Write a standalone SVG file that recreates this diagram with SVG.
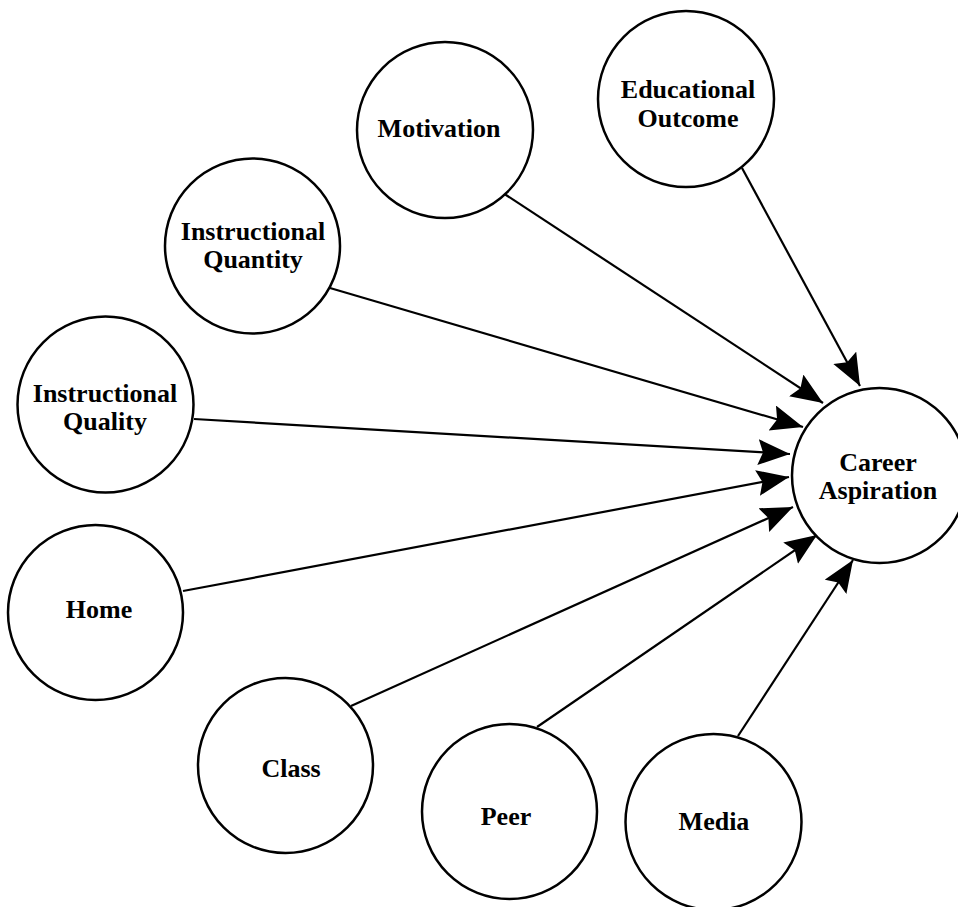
<svg xmlns="http://www.w3.org/2000/svg" width="958" height="907" viewBox="0 0 958 907">
<style>
.n{fill:#fff;stroke:#000;stroke-width:2.5}
.t{font-family:"Liberation Serif","Times New Roman",serif;font-weight:bold;font-size:26px;text-anchor:middle;fill:#000}
.c{stroke:#000;stroke-width:2.2;fill:none;marker-end:url(#ah)}
</style>
<defs>
<marker id="ah" markerUnits="userSpaceOnUse" markerWidth="34" markerHeight="28" refX="32" refY="13" orient="auto">
<path d="M0,0 L32,13 L0,26 L5,13 z" fill="#000"/>
</marker>
</defs>
<rect width="958" height="907" fill="#fff"/>
<g id="connectors">
<line class="c" x1="742" y1="168" x2="860" y2="386"/>
<line class="c" x1="503" y1="193" x2="823" y2="403"/>
<line class="c" x1="330" y1="288" x2="803" y2="427"/>
<line class="c" x1="194" y1="419" x2="790" y2="454"/>
<line class="c" x1="183" y1="591" x2="789" y2="477"/>
<line class="c" x1="351" y1="706" x2="793" y2="507"/>
<line class="c" x1="537" y1="727" x2="817" y2="535"/>
<line class="c" x1="738" y1="736" x2="853" y2="560"/>
</g>
<g id="educational-outcome"><circle class="n" cx="686" cy="99" r="88"/><text class="t" x="688" y="98">Educational</text><text class="t" x="688" y="127">Outcome</text></g>
<g id="motivation"><circle class="n" cx="445" cy="130" r="88"/><text class="t" x="439" y="137">Motivation</text></g>
<g id="instructional-quantity"><circle class="n" cx="252.5" cy="246" r="87.5"/><text class="t" x="253" y="240">Instructional</text><text class="t" x="253" y="268">Quantity</text></g>
<g id="instructional-quality"><circle class="n" cx="105.5" cy="404.5" r="88"/><text class="t" x="105" y="402">Instructional</text><text class="t" x="105" y="430">Quality</text></g>
<g id="home"><circle class="n" cx="95.5" cy="612.5" r="87.5"/><text class="t" x="99" y="618">Home</text></g>
<g id="class"><circle class="n" cx="285.5" cy="765.5" r="87.5"/><text class="t" x="291" y="777">Class</text></g>
<g id="peer"><circle class="n" cx="509.5" cy="811.5" r="87.5"/><text class="t" x="506" y="825">Peer</text></g>
<g id="media"><circle class="n" cx="713.5" cy="822" r="88"/><text class="t" x="714" y="830">Media</text></g>
<g id="career-aspiration"><circle class="n" cx="879.5" cy="475.5" r="87.5"/><text class="t" x="878" y="471">Career</text><text class="t" x="878" y="499">Aspiration</text></g>
</svg>
